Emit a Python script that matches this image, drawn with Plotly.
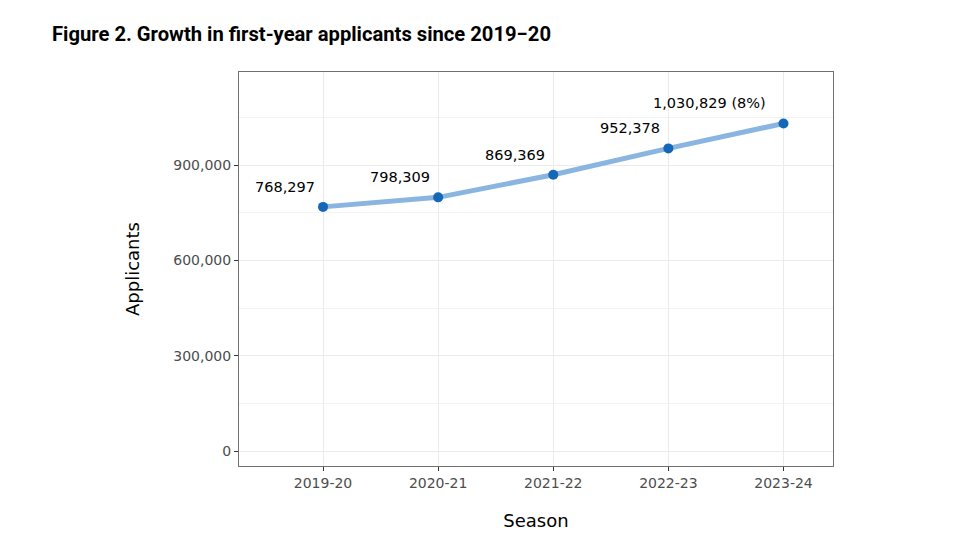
import plotly.graph_objects as go

seasons = ["2019-20", "2020-21", "2021-22", "2022-23", "2023-24"]
applicants = [768297, 798309, 869369, 952378, 1030829]
labels = ["768,297", "798,309", "869,369", "952,378", "1,030,829 (8%)"]
y_ticks = [0, 300000, 600000, 900000]
y_tick_text = ["0", "300,000", "600,000", "900,000"]

FONT = "DejaVu Sans"

fig = go.Figure()
fig.add_trace(go.Scatter(
    x=list(range(len(seasons))), y=applicants, mode="lines",
    line=dict(color="#89b5e0", width=5), hoverinfo="skip", showlegend=False))
fig.add_trace(go.Scatter(
    x=list(range(len(seasons))), y=applicants, mode="markers",
    marker=dict(color="#1568b8", size=10), showlegend=False))

for i, (v, lab) in enumerate(zip(applicants, labels)):
    fig.add_annotation(x=i, y=v, text=lab, showarrow=False, xanchor="right",
                       yanchor="middle", xshift=3 - 1.3 * len(lab), yshift=20,
                       font=dict(family=FONT, size=14.5, color="#000000"))

fig.update_layout(
    width=968, height=546, paper_bgcolor="white", plot_bgcolor="white",
    margin=dict(l=239, r=135, t=72, b=80),
    title=dict(text="<b>Figure 2. Growth in first-year applicants since 2019\u221220</b>",
               x=52 / 968, xanchor="left", y=1 - 34 / 546, yanchor="middle",
               font=dict(family="Roboto", size=20.2, color="#000000")),
)
fig.update_xaxes(
    range=[-0.73, 4.43], tickvals=list(range(len(seasons))), ticktext=seasons,
    showgrid=True, gridcolor="#ebebeb", gridwidth=1,
    showline=True, linecolor="#707070", linewidth=1, mirror=True,
    ticks="outside", ticklen=4, tickcolor="#333333",
    tickfont=dict(family=FONT, size=14, color="#4d4d4d"),
    title=dict(text="Season", font=dict(family=FONT, size=18, color="#000000"), standoff=24),
    zeroline=False)
fig.update_yaxes(
    range=[-47000, 1192700], tickvals=y_ticks, ticktext=y_tick_text,
    showgrid=True, gridcolor="#ebebeb", gridwidth=1,
    minor=dict(tickvals=[150000, 450000, 750000, 1050000], showgrid=True, gridcolor="#f3f3f3", ticks=""),
    showline=True, linecolor="#707070", linewidth=1, mirror=True,
    ticks="outside", ticklen=4, tickcolor="#333333",
    tickfont=dict(family=FONT, size=14, color="#4d4d4d"),
    title=dict(text="Applicants", font=dict(family=FONT, size=18, color="#000000"), standoff=28),
    zeroline=False)

fig.write_html("out.html")
